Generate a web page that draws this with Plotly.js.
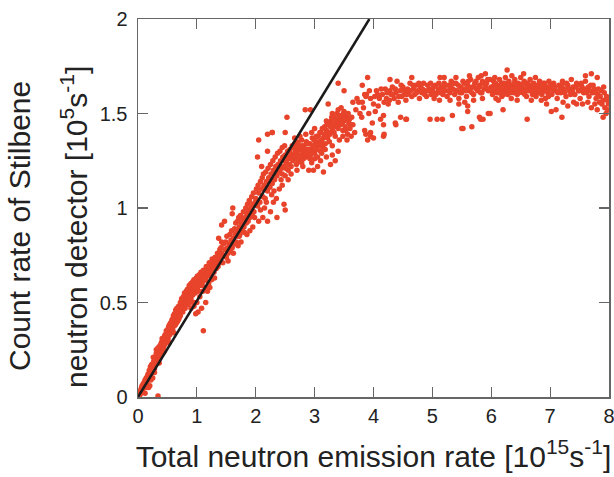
<!DOCTYPE html>
<html>
<head>
<meta charset="utf-8">
<script src="https://cdn.plot.ly/plotly-3.0.1.min.js"></script>
<style>html,body{margin:0;padding:0;background:#fff;}#chart{width:614px;height:477px;}</style>
</head>
<body>
<div id="chart"></div>
<script>
// [emission rate (1e15 s^-1), count rate (1e5 s^-1)], by region
const regionA = [[0.01,0.00],[0.02,0.02],[0.03,0.01],[0.04,0.03],[0.05,0.02],[0.05,0.04],[0.06,0.05],[0.07,0.03],[0.08,0.06],[0.09,0.05],[0.10,0.07],[0.10,0.05],[0.11,0.08],[0.12,0.06],[0.13,0.09],[0.14,0.08],[0.15,0.10],[0.15,0.07],[0.16,0.11],[0.17,0.10],[0.18,0.12],[0.19,0.11],[0.20,0.14],[0.20,0.10],[0.21,0.13],[0.22,0.15],[0.23,0.14],[0.24,0.17],[0.25,0.15],[0.26,0.18],[0.27,0.16],[0.28,0.19],[0.29,0.17],[0.30,0.21],[0.30,0.18],[0.31,0.20],[0.32,0.22],[0.33,0.19],[0.34,0.23],[0.35,0.21],[0.36,0.25],[0.37,0.22],[0.38,0.26],[0.39,0.24],[0.40,0.27],[0.41,0.25],[0.42,0.29],[0.43,0.26],[0.44,0.30],[0.45,0.28],[0.46,0.31],[0.47,0.29],[0.48,0.33],[0.49,0.30],[0.50,0.34],[0.51,0.31],[0.52,0.35],[0.53,0.33],[0.54,0.36],[0.55,0.34],[0.56,0.38],[0.57,0.35],[0.58,0.39],[0.59,0.36],[0.60,0.40],
 [0.03,0.03],[0.07,0.06],[0.11,0.06],[0.14,0.10],[0.18,0.09],[0.22,0.12],[0.26,0.15],[0.29,0.20],[0.32,0.19],[0.35,0.24],[0.38,0.23],[0.41,0.27],[0.44,0.27],[0.47,0.32],[0.50,0.31],[0.53,0.36],[0.56,0.35],[0.59,0.40],[0.33,0.24],[0.40,0.29],[0.46,0.33],[0.52,0.37],[0.58,0.41],
 [0.12,0.02],[0.18,0.05],[0.20,0.06],[0.25,0.10],[0.34,0.005]];
const regionA2 = [[0.02,0.01],[0.04,0.02],[0.06,0.03],[0.08,0.04],[0.09,0.07],[0.12,0.09],[0.13,0.07],[0.16,0.09],[0.17,0.12],[0.19,0.14],[0.21,0.16],[0.23,0.17],[0.24,0.13],[0.27,0.19],[0.28,0.15],[0.31,0.23],[0.33,0.21],[0.34,0.26],[0.36,0.22],[0.37,0.27],[0.39,0.28],[0.42,0.26],[0.43,0.31],[0.45,0.32],[0.46,0.28],[0.48,0.35],[0.49,0.33],[0.51,0.36],[0.53,0.38],[0.54,0.33],[0.55,0.39],[0.57,0.40],[0.58,0.37],[0.60,0.43],[0.62,0.44],[0.63,0.38],[0.64,0.46],[0.66,0.47],[0.67,0.40],[0.69,0.48],[0.70,0.42],[0.15,0.05],[0.22,0.09],[0.28,0.13],[0.36,0.18],[0.44,0.24],[0.52,0.29],[0.61,0.34],[0.26,0.21],[0.31,0.25],[0.41,0.31]];
const regionB = [[0.61,0.38],[0.62,0.42],[0.63,0.40],[0.64,0.43],[0.65,0.39],[0.66,0.44],[0.67,0.42],[0.68,0.46],[0.69,0.41],[0.70,0.45],[0.71,0.47],[0.72,0.43],[0.73,0.48],[0.74,0.46],[0.75,0.50],[0.76,0.45],[0.77,0.49],[0.78,0.52],[0.79,0.47],[0.80,0.50],[0.81,0.53],[0.82,0.49],[0.83,0.54],[0.84,0.51],[0.85,0.55],[0.86,0.50],[0.87,0.56],[0.88,0.53],[0.89,0.57],[0.90,0.52],[0.91,0.56],[0.92,0.58],[0.93,0.54],[0.94,0.59],[0.95,0.56],[0.96,0.60],[0.97,0.55],[0.98,0.61],[0.99,0.58],[1.00,0.62],[1.01,0.57],[1.02,0.60],[1.03,0.63],[1.04,0.59],[1.05,0.62],[1.06,0.64],[1.07,0.60],[1.08,0.63],[1.09,0.65],[1.10,0.61],[1.12,0.64],[1.14,0.66],[1.15,0.62],[1.17,0.67],[1.18,0.64],[1.20,0.68],[1.22,0.65],[1.23,0.70],[1.25,0.67],[1.27,0.71],[1.28,0.68],[1.30,0.72],
 [0.90,0.47],[1.00,0.50],[1.05,0.53],[1.10,0.56],[1.15,0.58],[0.95,0.50],[1.20,0.60],[1.25,0.62],[1.11,0.35],[1.02,0.45],[0.95,0.48],[1.08,0.47],[1.15,0.50]];
const regionB2 = [[0.72,0.50],[0.74,0.52],[0.75,0.47],[0.77,0.53],[0.79,0.55],[0.80,0.47],[0.82,0.56],[0.84,0.57],[0.85,0.49],[0.87,0.59],[0.88,0.50],[0.90,0.60],[0.92,0.55],[0.93,0.61],[0.95,0.62],[0.97,0.58],[0.99,0.63],[1.01,0.64],[1.03,0.56],[1.05,0.65],[1.07,0.66],[1.09,0.59],[1.11,0.67],[1.13,0.62],[1.16,0.69],[1.19,0.66],[1.21,0.71],[1.24,0.64],[1.26,0.73],[1.29,0.66],[1.31,0.74],[1.33,0.68],[1.35,0.76],[1.37,0.71],[1.39,0.78],[0.98,0.44],[1.22,0.58],[1.30,0.63],[1.18,0.56]];
const regionC = [[1.32,0.70],[1.34,0.73],[1.36,0.69],[1.38,0.74],[1.40,0.72],[1.42,0.76],[1.44,0.71],[1.46,0.75],[1.48,0.78],[1.50,0.74],[1.52,0.79],[1.53,0.76],[1.55,0.81],[1.57,0.77],[1.58,0.83],[1.60,0.79],[1.62,0.84],[1.63,0.81],[1.65,0.86],[1.67,0.82],[1.68,0.88],[1.70,0.85],[1.72,0.90],[1.73,0.86],[1.75,0.92],[1.77,0.88],[1.78,0.94],[1.80,0.90],[1.82,0.95],[1.84,0.92],[1.85,0.97],[1.87,0.93],[1.88,0.99],[1.90,0.95],[1.92,1.00],[1.94,0.97],[1.95,1.02],[1.97,0.98],[1.99,1.03],
 [1.42,0.91],[1.60,0.97],[1.61,1.00],[1.47,0.93],[1.37,0.84],[1.42,0.82],
 [2.05,0.93],[2.12,0.95],[2.20,0.93],[2.25,0.98],[2.36,0.95],[2.50,0.99],[2.48,1.02],[1.90,0.88],[1.95,0.90],[1.85,0.86],[1.75,0.82],[1.70,0.80]];
const regionD = [[2.00,1.05],[2.03,1.01],[2.05,1.08],[2.07,1.03],[2.10,1.10],[2.12,1.06],[2.14,1.12],[2.16,1.05],[2.18,1.14],[2.20,1.09],[2.22,1.16],[2.24,1.11],[2.26,1.18],[2.28,1.13],[2.30,1.20],[2.32,1.15],[2.34,1.22],[2.36,1.17],[2.38,1.23],[2.40,1.19],[2.42,1.25],[2.44,1.21],[2.46,1.27],[2.48,1.22],[2.50,1.28],[2.52,1.24],[2.54,1.30],[2.56,1.26],[2.58,1.31],[2.60,1.27],[2.62,1.33],[2.64,1.28],[2.66,1.34],[2.68,1.30],[2.70,1.35],
 [2.27,1.07],[2.35,1.05],[2.40,1.10],[2.45,1.12],[2.55,1.15],[2.60,1.18],[2.70,1.20],[2.80,1.22],[2.90,1.20],[2.30,1.03],[2.15,1.00],[2.50,1.17],[2.75,1.25],[2.85,1.27],[2.95,1.24],[3.00,1.26],[3.05,1.22],
 [2.05,1.36],[2.20,1.39],[2.28,1.40],[2.03,1.27],[2.10,1.22],[2.20,1.30]];
const regionCD2 = [[1.41,0.79],[1.45,0.81],[1.49,0.82],[1.51,0.85],[1.56,0.86],[1.59,0.88],[1.64,0.89],[1.66,0.92],[1.69,0.93],[1.71,0.95],[1.74,0.96],[1.79,0.98],[1.83,1.00],[1.86,1.02],[1.89,1.04],[1.93,1.06],[1.96,1.08],[2.01,1.10],[2.04,1.12],[2.08,1.14],[2.11,1.16],[2.13,1.18],[2.17,1.19],[2.21,1.21],[2.25,1.23],[2.29,1.25],[2.33,1.27],[2.37,1.29],[2.41,1.30],[2.45,1.32],[2.49,1.33],[1.53,0.72],[1.62,0.76],[1.72,0.85],[1.81,0.87],[1.98,0.95],[2.08,0.99],[2.18,1.03],[2.31,1.09],[2.43,1.15]];
const regionE = [[2.62,1.28],[2.65,1.32],[2.68,1.26],[2.70,1.30],[2.72,1.34],[2.74,1.28],[2.76,1.31],[2.78,1.36],[2.80,1.29],[2.82,1.33],[2.84,1.27],[2.86,1.35],[2.88,1.31],[2.90,1.28],[2.92,1.34],[2.94,1.30],[2.96,1.37],[2.98,1.32],[3.00,1.29],[3.02,1.35],[3.04,1.31],[3.06,1.38],[3.08,1.33],[3.10,1.30],[3.12,1.36],[3.14,1.32],[3.16,1.39],[3.18,1.34],[3.20,1.41],[3.22,1.37],[3.24,1.44],[3.26,1.39],[3.28,1.46],[3.30,1.41],[3.32,1.48],[3.34,1.43],[3.36,1.45],[3.38,1.50],[3.40,1.42],[3.42,1.47],[3.44,1.44],[3.46,1.49],[3.48,1.41],[3.50,1.46],[3.52,1.43],[3.54,1.48],[3.56,1.39],[3.58,1.45],[3.60,1.42],
 [2.72,1.25],[2.78,1.24],[2.85,1.30],[2.92,1.26],[3.00,1.33],[3.05,1.27],[3.12,1.29],[3.18,1.31],[3.25,1.35],[3.30,1.33],[3.35,1.38],[3.42,1.36],[3.48,1.38],[3.55,1.36],[3.62,1.38],[3.65,1.44],[3.68,1.40],[3.40,1.52],[3.45,1.53],[3.50,1.51],[3.30,1.50],[3.20,1.46],[3.10,1.40],[2.95,1.40],[2.85,1.39],[2.75,1.38],[2.66,1.37],[3.00,1.42],[2.60,1.22],[2.55,1.20],
 [3.30,1.28],[3.35,1.25],[3.40,1.30]];
const regionE2 = [[2.42,1.22],[2.45,1.18],[2.47,1.25],[2.51,1.21],[2.53,1.27],[2.57,1.23],[2.59,1.29],[2.63,1.25],[2.67,1.31],[2.69,1.23],[2.71,1.28],[2.73,1.32],[2.77,1.27],[2.79,1.33],[2.81,1.26],[2.83,1.31],[2.87,1.29],[2.89,1.34],[2.91,1.31],[2.93,1.28],[2.97,1.33],[2.99,1.36],[3.01,1.31],[3.03,1.38],[3.07,1.35],[3.09,1.40],[3.11,1.34],[3.13,1.42],[3.15,1.37],[3.17,1.43],[3.19,1.38],[3.21,1.44],[3.23,1.40],[3.27,1.43],[3.29,1.48],[3.31,1.45],[3.33,1.40],[3.37,1.47],[3.39,1.44],[3.41,1.49],[3.43,1.46],[3.47,1.45],[3.49,1.50],[3.51,1.47],[3.53,1.41],[3.57,1.50],[3.59,1.47],[3.61,1.44],[3.63,1.48],[2.28,1.40],[2.50,1.40],[2.53,1.48],[2.84,1.52],[2.93,1.52],[3.23,1.55],[3.40,1.66],[3.50,1.62],[3.81,1.65],[3.87,1.59],[3.65,1.56],[3.95,1.38],[3.90,1.36],[3.85,1.41],[3.15,1.19],[2.98,1.20],[3.27,1.23],[3.10,1.25],[3.20,1.27]];
const regionF = [[3.70,1.52],[3.75,1.56],[3.80,1.48],[3.81,1.56],[3.85,1.60],[3.88,1.60],[3.90,1.69],[3.92,1.50],[3.95,1.58],[3.98,1.45],[4.00,1.55],[4.02,1.59],[4.05,1.62],[4.08,1.54],[4.10,1.58],[4.12,1.47],[4.15,1.60],[4.18,1.56],[4.20,1.63],[4.22,1.58],[4.25,1.55],[4.28,1.62],[4.30,1.60],[4.32,1.64],[4.35,1.58],[4.38,1.61],[4.40,1.67],[4.42,1.56],[4.45,1.62],[4.48,1.59],[4.50,1.64],[4.52,1.60],[4.55,1.57],[4.58,1.63],[4.60,1.61],[4.62,1.66],[4.65,1.59],[4.68,1.63],[4.70,1.60],[4.72,1.65],[4.75,1.62],[4.78,1.58],[4.80,1.64],[4.82,1.61],[4.85,1.66],[4.88,1.62],[4.90,1.59],[4.92,1.65],[4.95,1.63],[4.98,1.60],
 [3.87,1.39],[4.00,1.37],[4.17,1.38],[3.95,1.40],[4.17,1.44],[4.37,1.45],[4.46,1.48],[4.56,1.47],[4.96,1.47],[5.08,1.47]];
const regionF2 = [[3.72,1.58],[3.77,1.50],[3.83,1.53],[3.93,1.62],[4.03,1.51],[4.07,1.60],[4.13,1.63],[4.23,1.61],[4.27,1.57],[4.33,1.60],[4.37,1.63],[4.43,1.59],[4.47,1.65],[4.53,1.62],[4.57,1.60],[4.63,1.62],[4.67,1.65],[4.73,1.61],[4.77,1.66],[4.83,1.63],[4.87,1.60],[4.93,1.62],[4.97,1.66],[4.17,1.49],[4.18,1.39],[4.38,1.44],[4.55,1.47],[5.17,1.47],[5.34,1.49],[5.52,1.42],[5.82,1.47],[5.95,1.50],[4.28,1.68],[4.65,1.69]];
const regionG = [[5.00,1.62],[5.03,1.58],[5.05,1.65],[5.08,1.61],[5.10,1.63],[5.12,1.57],[5.15,1.64],[5.18,1.60],[5.20,1.66],[5.22,1.62],[5.25,1.59],[5.28,1.65],[5.30,1.61],[5.32,1.67],[5.35,1.63],[5.38,1.60],[5.40,1.66],[5.42,1.62],[5.45,1.58],[5.48,1.64],[5.50,1.61],[5.52,1.67],[5.55,1.63],[5.58,1.59],[5.60,1.65],[5.62,1.62],[5.65,1.68],[5.68,1.64],[5.70,1.60],[5.72,1.66],[5.75,1.63],[5.78,1.69],[5.80,1.65],[5.82,1.61],[5.85,1.67],[5.88,1.63],[5.90,1.71],[5.92,1.66],[5.95,1.62],[5.98,1.68],
 [5.45,1.55],[5.55,1.56],[5.30,1.57],[5.70,1.57],[5.85,1.58],[5.60,1.54],[5.40,1.69],[5.20,1.69],[5.50,1.42],[5.67,1.43],[5.60,1.51],[5.80,1.48]];
const regionG2 = [[5.02,1.64],[5.06,1.60],[5.11,1.66],[5.14,1.61],[5.19,1.63],[5.23,1.65],[5.27,1.62],[5.31,1.64],[5.36,1.66],[5.39,1.62],[5.44,1.65],[5.47,1.61],[5.51,1.63],[5.54,1.66],[5.57,1.62],[5.61,1.67],[5.64,1.63],[5.67,1.61],[5.71,1.64],[5.74,1.67],[5.77,1.62],[5.81,1.64],[5.84,1.61],[5.87,1.66],[5.91,1.64],[5.94,1.68],[5.97,1.63],[5.13,1.69],[5.63,1.70],[5.83,1.70]];
const regionH = [[6.00,1.64],[6.02,1.60],[6.04,1.67],[6.06,1.62],[6.08,1.58],[6.10,1.65],[6.12,1.61],[6.14,1.68],[6.16,1.63],[6.18,1.59],[6.20,1.66],[6.22,1.62],[6.24,1.69],[6.26,1.64],[6.28,1.60],[6.30,1.67],[6.32,1.63],[6.34,1.58],[6.36,1.65],[6.38,1.61],[6.40,1.68],[6.42,1.64],[6.44,1.60],[6.46,1.66],[6.48,1.62],[6.50,1.69],[6.52,1.65],[6.54,1.61],[6.56,1.67],[6.58,1.63],[6.60,1.59],[6.62,1.66],[6.64,1.62],[6.66,1.68],[6.68,1.64],[6.70,1.60],[6.72,1.66],[6.74,1.63],[6.76,1.59],[6.78,1.65],[6.80,1.61],[6.82,1.67],[6.84,1.63],[6.86,1.60],[6.88,1.66],[6.90,1.62],[6.92,1.58],[6.94,1.64],[6.96,1.61],[6.98,1.67],
 [6.01,1.62],[6.05,1.65],[6.09,1.61],[6.13,1.64],[6.17,1.66],[6.21,1.60],[6.25,1.63],[6.29,1.65],[6.33,1.61],[6.37,1.63],[6.41,1.66],[6.45,1.62],[6.49,1.64],[6.53,1.63],[6.57,1.60],[6.61,1.64],[6.65,1.65],[6.69,1.62],[6.73,1.61],[6.77,1.64],[6.81,1.63],[6.85,1.65],[6.89,1.62],[6.93,1.63],[6.97,1.59],[6.27,1.73],
 [6.20,1.52],[6.61,1.47],[6.94,1.55],[5.98,1.50],[5.86,1.47]];
const regionH2 = [[6.03,1.63],[6.07,1.66],[6.11,1.63],[6.15,1.61],[6.19,1.64],[6.23,1.66],[6.27,1.62],[6.31,1.65],[6.35,1.63],[6.39,1.66],[6.43,1.63],[6.47,1.61],[6.51,1.64],[6.55,1.66],[6.59,1.62],[6.63,1.65],[6.67,1.63],[6.71,1.65],[6.75,1.62],[6.79,1.63],[6.83,1.61],[6.87,1.64],[6.91,1.66],[6.95,1.62],[6.99,1.64],[6.06,1.69],[6.35,1.70],[6.55,1.71],[6.75,1.69],[6.44,1.57],[6.68,1.57],[6.12,1.57],[6.85,1.57]];
const regionI = [[7.00,1.63],[7.03,1.60],[7.06,1.66],[7.09,1.62],[7.12,1.58],[7.15,1.65],[7.18,1.61],[7.21,1.67],[7.24,1.63],[7.27,1.59],[7.30,1.65],[7.33,1.62],[7.36,1.68],[7.39,1.64],[7.42,1.60],[7.45,1.66],[7.48,1.62],[7.51,1.58],[7.54,1.64],[7.57,1.61],[7.60,1.67],[7.63,1.63],[7.66,1.59],[7.69,1.65],[7.72,1.61],[7.75,1.63],[7.78,1.58],[7.81,1.60],[7.84,1.56],[7.87,1.62],[7.90,1.57],[7.93,1.53],[7.96,1.59],[7.99,1.55],
 [7.10,1.52],[7.30,1.54],[7.45,1.55],[7.55,1.55],[7.70,1.53],[7.80,1.52],[7.90,1.48],[7.95,1.50],[7.60,1.70],[7.70,1.71],[7.80,1.69],[7.02,1.51],[7.20,1.48]];
const regionI2 = [[7.01,1.65],[7.05,1.62],[7.08,1.64],[7.13,1.61],[7.17,1.63],[7.20,1.65],[7.25,1.61],[7.28,1.66],[7.32,1.63],[7.35,1.60],[7.38,1.62],[7.43,1.64],[7.47,1.65],[7.50,1.62],[7.53,1.66],[7.58,1.63],[7.62,1.61],[7.65,1.64],[7.68,1.62],[7.73,1.65],[7.77,1.61],[7.82,1.63],[7.85,1.59],[7.88,1.55],[7.92,1.61],[7.97,1.57],[7.98,1.52],[7.91,1.64],[7.22,1.56],[7.40,1.56],[7.64,1.56],[7.76,1.55]];
const fitX = [0, 3.93];
const fitY = [0, 2];
const xTickVals = [0,1,2,3,4,5,6,7,8];
const yTickVals = [0,0.5,1,1.5,2];
const yTickText = ['0','0.5','1','1.5','2'];

const allPts = [].concat(regionA, regionA2, regionB, regionB2, regionC, regionD, regionCD2, regionE, regionE2,
  regionF, regionF2, regionG, regionG2, regionH, regionH2, regionI, regionI2);
const font = 'Liberation Sans, Arial, sans-serif';

const traces = [
  {x: allPts.map(p=>p[0]), y: allPts.map(p=>p[1]), type:'scatter', mode:'markers',
   marker:{color:'#e8432b', size:5.5}, hoverinfo:'skip'},
  {x: fitX, y: fitY, type:'scatter', mode:'lines', line:{color:'#1a1a1a', width:2.5}, hoverinfo:'skip'}
];
const axisCommon = {showgrid:false, zeroline:false, showline:true, linecolor:'#666', linewidth:1.5,
  mirror:'ticks', ticks:'inside', ticklen:10, tickcolor:'#666', tickwidth:1.2,
  tickfont:{family:font, size:20, color:'#222'}};
const layout = {
  width:614, height:477, showlegend:false,
  paper_bgcolor:'#fff', plot_bgcolor:'#fff',
  margin:{l:138, r:5, t:19, b:80},
  xaxis: Object.assign({}, axisCommon, {range:[0,8], tickvals:xTickVals, ticktext:xTickVals.map(String),
    ticklabeloverflow:'allow',
    title:{text:'Total neutron emission rate [10<sup>15</sup>s<sup>-1</sup>]', font:{family:font, size:30, color:'#222'}, standoff:20}}),
  yaxis: Object.assign({}, axisCommon, {range:[0,2], tickvals:yTickVals, ticktext:yTickText, ticklabelstandoff:5}),
  annotations:[
    {text:'Count rate of Stilbene', textangle:-90, xref:'paper', yref:'paper', x:(19-138)/471, y:(397-226)/378,
     xanchor:'center', yanchor:'middle', showarrow:false, font:{family:font, size:30, color:'#222'}},
    {text:'neutron detector [10<sup>5</sup>s<sup>-1</sup>]', textangle:-90, xref:'paper', yref:'paper', x:(74-138)/471, y:(397-227)/378,
     xanchor:'center', yanchor:'middle', showarrow:false, font:{family:font, size:30, color:'#222'}}
  ]
};
Plotly.newPlot('chart', traces, layout, {displayModeBar:false, staticPlot:true});
</script>
</body>
</html>
